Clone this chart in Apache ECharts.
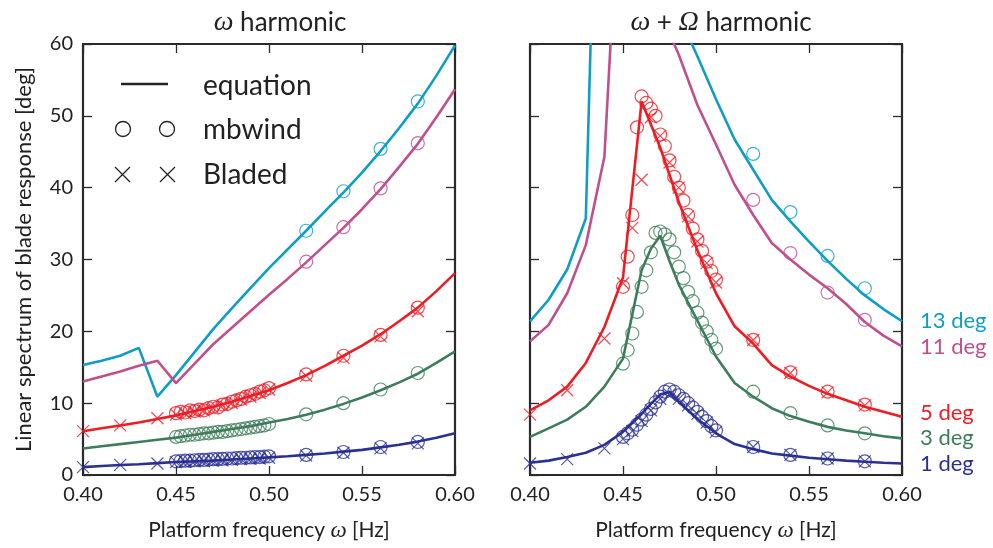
<!DOCTYPE html>
<html><head><meta charset="utf-8">
<script src="https://cdn.jsdelivr.net/npm/echarts@6/dist/echarts.min.js"></script>
<style>html,body{margin:0;padding:0;background:#fff}#c{width:993px;height:548px}</style>
</head><body><div id="c"></div>
<script>
// ---------- data ----------
const xLineL = [0.40,0.41,0.42,0.43,0.44,0.45,0.46,0.47,0.48,0.49,0.50,0.51,0.52,0.53,0.54,0.55,0.56,0.57,0.58,0.59,0.60];
const xLineR = [0.40,0.41,0.42,0.43,0.44,0.45,0.46,0.465,0.47,0.475,0.48,0.49,0.50,0.51,0.52,0.53,0.54,0.55,0.56,0.57,0.58,0.59,0.60];
const xDense = [0.45,0.4525,0.455,0.4575,0.46,0.4625,0.465,0.4675,0.47,0.4725,0.475,0.4775,0.48,0.4825,0.485,0.4875,0.49,0.4925,0.495,0.4975,0.50];
const xOuter = [0.52,0.54,0.56,0.58];
const xCross = [0.40,0.42,0.44,0.45,0.455,0.46,0.465,0.47,0.475,0.48,0.485,0.49,0.495,0.50,0.52,0.54,0.56,0.58];

// left panel: omega harmonic
const eqL13 = [15.3,15.9,16.6,17.7,10.9,13.9,17.1,20.3,23.2,26.0,28.8,31.4,34.0,36.7,39.3,42.1,45.1,48.3,51.7,55.6,59.8];
const eqL11 = [13.0,13.7,14.4,15.2,15.9,12.8,15.5,18.2,20.5,22.8,25.1,27.3,29.6,32.0,34.4,37.0,39.8,42.9,46.1,49.8,53.7];
const eqL5  = [6.1,6.5,6.9,7.3,7.8,8.3,8.9,9.5,10.2,11.0,11.8,12.8,13.9,15.2,16.6,18.0,19.6,21.4,23.3,25.6,28.1];
const eqL3  = [3.7,4.0,4.3,4.6,4.9,5.2,5.6,6.0,6.4,6.8,7.3,7.8,8.4,9.1,9.9,10.8,11.8,12.9,14.1,15.6,17.2];
const eqL1  = [1.1,1.25,1.4,1.5,1.65,1.8,1.9,2.0,2.15,2.3,2.45,2.6,2.8,3.0,3.25,3.5,3.85,4.2,4.65,5.2,5.8];
const mbL13Outer = [34.0,39.5,45.4,52.0];
const mbL11Outer = [29.7,34.5,39.9,46.2];
const mbL5Dense = [8.6,8.8,8.7,9.0,8.9,9.1,9.0,9.3,9.5,9.4,9.8,9.9,10.2,10.4,10.6,10.9,11.1,11.3,11.6,11.8,12.1];
const mbL5Outer = [14.0,16.6,19.5,23.3];
const mbL3Dense = [5.3,5.4,5.5,5.6,5.6,5.7,5.8,5.8,5.9,6.0,6.0,6.1,6.2,6.3,6.4,6.5,6.6,6.7,6.8,6.9,7.1];
const mbL3Outer = [8.45,10.0,11.9,14.2];
const mbL1Dense = [1.9,1.95,2.0,2.0,2.05,2.1,2.1,2.15,2.2,2.2,2.25,2.3,2.3,2.35,2.4,2.4,2.45,2.5,2.5,2.55,2.6];
const mbL1Outer = [2.8,3.2,3.9,4.6];
const blL5 = [6.1,6.9,7.9,8.4,8.6,8.8,9.0,9.3,9.7,10.0,10.5,10.9,11.4,11.9,13.8,16.3,19.3,22.8];
const blL1 = [1.1,1.4,1.6,1.8,1.85,1.9,1.95,2.0,2.05,2.1,2.2,2.25,2.3,2.4,2.7,3.1,3.7,4.4];

// right panel: omega + Omega harmonic
const eqR13 = [21.4,24.4,28.6,35.7,130,300,400,250,120,80,64,58.3,52.3,46.7,42.5,38.3,35.3,32.5,29.8,27.3,25.0,23.1,21.4];
const eqR11 = [18.6,20.9,25.3,32.0,44.3,92,200,90,66,61.5,58.5,51.5,46.0,40.4,36.2,32.3,30.0,27.9,26.0,23.8,21.3,19.4,17.9];
const eqR5  = [9.0,10.4,12.3,15.6,20.6,27.5,52.0,48.8,45.6,41.8,38.0,31.3,25.3,20.7,18.3,15.3,13.7,12.4,11.3,10.4,9.5,8.8,8.1];
const eqR3  = [5.3,6.5,7.7,9.5,12.3,16.2,28.5,31.5,33.3,29.8,26.5,21.5,16.5,12.8,10.9,9.3,8.2,7.4,6.7,6.2,5.8,5.4,5.1];
const eqR1  = [1.7,2.0,2.5,3.1,4.2,6.0,8.5,9.9,11.2,11.6,10.2,7.8,5.8,4.3,3.6,3.0,2.7,2.4,2.2,2.0,1.85,1.7,1.6];
const mbR13Outer = [44.7,36.6,30.5,26.0];
const mbR11Outer = [38.3,30.9,25.4,21.6];
const mbR5Dense = [26.2,30.4,36.2,48.4,52.7,51.8,51.0,50.0,47.4,45.8,43.8,41.5,40.0,38.2,36.2,34.3,32.8,31.2,29.7,28.4,27.2];
const mbR5Outer = [18.8,14.3,11.6,9.8];
const mbR3Dense = [15.5,17.4,19.7,22.7,26.2,28.5,31.0,33.7,33.9,33.5,32.8,31.0,29.0,27.4,25.5,24.2,22.6,21.2,20.0,18.8,17.6];
const mbR3Outer = [11.6,8.6,6.9,5.8];
const mbR1Dense = [5.3,5.8,6.3,7.0,7.7,8.4,9.2,10.1,10.9,11.6,11.9,11.6,11.1,10.6,10.0,9.4,8.8,8.1,7.5,6.8,6.2];
const mbR1Outer = [3.9,2.8,2.3,1.9];
const blR5 = [8.4,11.8,19.0,26.7,34.4,41.1,49.8,47.2,43.5,40.0,36.0,32.5,29.5,26.8,18.8,14.2,11.5,9.7];
const blR1 = [1.6,2.2,3.7,5.0,6.1,7.5,9.0,10.6,11.2,10.6,9.7,8.5,7.3,6.0,3.9,2.8,2.3,1.9];

const degLabels = ['13 deg','11 deg','5 deg','3 deg','1 deg'];
const colors = ['#0e9dc6','#c04f8e','#ef1c24','#3e7d5b','#2b3192'];

// ---------- helpers ----------
const pairs = (xs, ys) => xs.map((x, i) => [x, ys[i]]);
const FONT = 'Lato';
const INK = '#222';
const CROSS = 'path://M0 0L10 10M10 0L0 10';

function lineS(ax, xs, ys, ci, endLbl, off) {
  const s = {type:'line', xAxisIndex:ax, yAxisIndex:ax, data:pairs(xs, ys), showSymbol:false, symbol:'none',
    lineStyle:{color:colors[ci], width:2.6}, itemStyle:{color:colors[ci]}, clip:true, z:3};
  if (endLbl) s.endLabel = {show:true, formatter:degLabels[ci], color:colors[ci], fontFamily:FONT, fontSize:22, distance:18, offset:off||[0,0]};
  return s;
}
function circS(ax, xs, ys, ci) {
  return {type:'scatter', xAxisIndex:ax, yAxisIndex:ax, data:pairs(xs, ys), symbol:'circle', symbolSize:13,
    itemStyle:{color:'rgba(0,0,0,0)', borderColor:colors[ci], borderWidth:1.2}, clip:true, z:4};
}
function crossS(ax, xs, ys, ci) {
  return {type:'scatter', xAxisIndex:ax, yAxisIndex:ax, data:pairs(xs, ys), symbol:CROSS, symbolSize:12,
    itemStyle:{color:'none', borderColor:colors[ci], borderWidth:1.2}, clip:true, z:4};
}

const axLine = {show:true, onZero:false, lineStyle:{color:'#2a2a2a', width:2.2}};
const axTick = {show:true, inside:true, length:9, lineStyle:{color:'#2a2a2a', width:1.3}};
const mathRich = {m:{fontFamily:'Liberation Serif', fontStyle:'italic', fontSize:23, color:INK}};

function xAx(grid, pos, labels) {
  return {type:'value', gridIndex:grid, position:pos, min:0.4, max:0.6, interval:0.05,
    axisLine:axLine, axisTick:axTick, splitLine:{show:false},
    axisLabel:{show:labels, color:INK, fontFamily:FONT, fontSize:20, margin:10, formatter:v=>v.toFixed(2)},
    name: labels ? 'Platform frequency {m|ω} [Hz]' : '', nameLocation:'middle', nameGap:44,
    nameTextStyle:{color:INK, fontFamily:FONT, fontSize:21, rich:mathRich}};
}
function yAx(grid, pos, labels, name) {
  return {type:'value', gridIndex:grid, position:pos, min:0, max:60, interval:10,
    axisLine:axLine, axisTick:axTick, splitLine:{show:false},
    axisLabel:{show:labels, color:INK, fontFamily:FONT, fontSize:20, margin:10},
    name:name||'', nameLocation:'middle', nameGap:48, nameRotate:90,
    nameTextStyle:{color:INK, fontFamily:FONT, fontSize:22}};
}

const series = [
  lineS(0, xLineL, eqL13, 0), lineS(0, xLineL, eqL11, 1), lineS(0, xLineL, eqL5, 2), lineS(0, xLineL, eqL3, 3), lineS(0, xLineL, eqL1, 4),
  circS(0, xOuter, mbL13Outer, 0), circS(0, xOuter, mbL11Outer, 1),
  circS(0, xDense.concat(xOuter), mbL5Dense.concat(mbL5Outer), 2),
  circS(0, xDense.concat(xOuter), mbL3Dense.concat(mbL3Outer), 3),
  circS(0, xDense.concat(xOuter), mbL1Dense.concat(mbL1Outer), 4),
  crossS(0, xCross, blL5, 2), crossS(0, xCross, blL1, 4),

  lineS(2, xLineR, eqR13, 0, true), lineS(2, xLineR, eqR11, 1, true), lineS(2, xLineR, eqR5, 2, true, [0,-4]),
  lineS(2, xLineR, eqR3, 3, true), lineS(2, xLineR, eqR1, 4, true),
  circS(2, xOuter, mbR13Outer, 0), circS(2, xOuter, mbR11Outer, 1),
  circS(2, xDense.concat(xOuter), mbR5Dense.concat(mbR5Outer), 2),
  circS(2, xDense.concat(xOuter), mbR3Dense.concat(mbR3Outer), 3),
  circS(2, xDense.concat(xOuter), mbR1Dense.concat(mbR1Outer), 4),
  crossS(2, xCross, blR5, 2), crossS(2, xCross, blR1, 4)
];

// legend drawn as graphics (matplotlib-style, two markers per row)
const lg = {stroke:INK, lineWidth:1.3};
const legendFont = '28px ' + FONT;
const graphic = [
  {type:'line', shape:{x1:121,y1:84,x2:168,y2:84}, style:{stroke:INK, lineWidth:2.6}},
  {type:'circle', shape:{cx:123,cy:129,r:7.5}, style:Object.assign({fill:'none'}, lg)},
  {type:'circle', shape:{cx:167,cy:129,r:7.5}, style:Object.assign({fill:'none'}, lg)},
  {type:'line', shape:{x1:115,y1:167,x2:130,y2:182}, style:lg},
  {type:'line', shape:{x1:115,y1:182,x2:130,y2:167}, style:lg},
  {type:'line', shape:{x1:160,y1:167,x2:175,y2:182}, style:lg},
  {type:'line', shape:{x1:160,y1:182,x2:175,y2:167}, style:lg},
  {type:'text', x:203, y:86, style:{text:'equation', fill:INK, font:legendFont, verticalAlign:'middle'}},
  {type:'text', x:203, y:130, style:{text:'mbwind', fill:INK, font:legendFont, verticalAlign:'middle'}},
  {type:'text', x:203, y:175, style:{text:'Bladed', fill:INK, font:legendFont, verticalAlign:'middle'}}
];

const titleRich = {
  m:{fontFamily:'Liberation Serif', fontStyle:'italic', fontWeight:'normal', fontSize:28, color:INK},
  t:{fontFamily:FONT, fontWeight:'normal', fontSize:26, color:INK}
};
const option = {
  animation:false,
  backgroundColor:'#fff',
  title:[
    {text:'{m|ω}{t| harmonic}', left:275, top:4, textAlign:'center', textStyle:{fontWeight:'normal', rich:titleRich}},
    {text:'{m|ω}{t| + }{m|Ω}{t| harmonic}', left:716, top:4, textAlign:'center', textStyle:{fontWeight:'normal', rich:titleRich}}
  ],
  grid:[
    {left:83, top:44, width:372, height:431},
    {left:530, top:44, width:372, height:431}
  ],
  xAxis:[xAx(0,'bottom',true), xAx(0,'top',false), xAx(1,'bottom',true), xAx(1,'top',false)],
  yAxis:[yAx(0,'left',true,'Linear spectrum of blade response [deg]'), yAx(0,'right',false), yAx(1,'left',false), yAx(1,'right',false)],
  series:series,
  graphic:graphic
};
const chart = echarts.init(document.getElementById('c'), null, {renderer:'canvas'});
chart.setOption(option);
</script></body></html>
